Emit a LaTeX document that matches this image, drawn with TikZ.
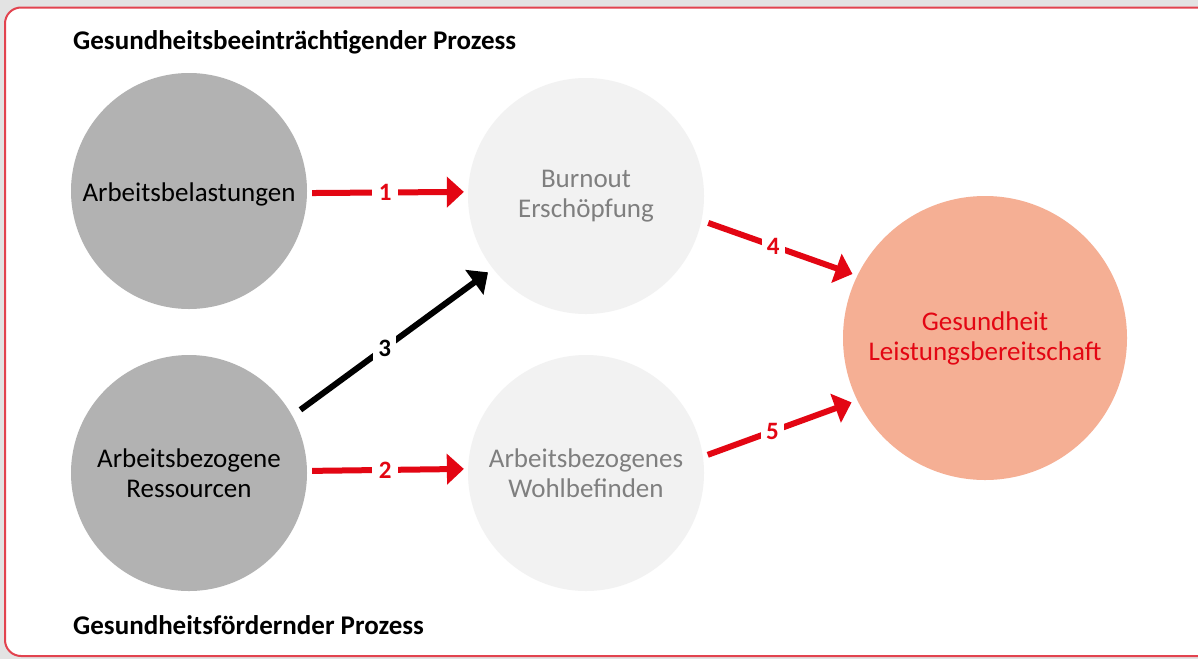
\documentclass[tikz,border=0pt]{standalone}
\usepackage{fontspec}
\setmainfont{Carlito}
\usetikzlibrary{arrows.meta}
\definecolor{pagegrey}{HTML}{E3E3E3}
\definecolor{framered}{HTML}{E2434F}
\definecolor{darkdisc}{HTML}{B2B2B2}
\definecolor{lightdisc}{HTML}{F2F2F2}
\definecolor{salmon}{HTML}{F5AF94}
\definecolor{mutedtext}{HTML}{7F7F7F}
\definecolor{arrowred}{HTML}{E30613}
\tikzset{
  disc/.style={circle, inner sep=0pt, minimum size=236pt, align=center,
    font=\fontsize{27}{30}\selectfont,
    execute at begin node={\rule{0pt}{25pt}}},
  stage/.style={disc, fill=darkdisc, text=black},
  state/.style={disc, fill=lightdisc, text=mutedtext},
  outcome/.style={disc, minimum size=284pt, fill=salmon, text=arrowred},
  heading/.style={anchor=base west, inner sep=0pt,
    font=\fontsize{27}{30}\selectfont\bfseries},
  link/.style={line width=6pt, -{Triangle[length=17pt,width=30pt]}},
  redlink/.style={link, draw=arrowred},
  blacklink/.style={link, draw=black},
  num/.style={fill=white, inner sep=7pt, font=\fontsize{25}{28}\selectfont\bfseries},
}
\begin{document}
\begin{tikzpicture}[x=1pt, y=-1pt]
  % page and frame
  \fill[pagegrey] (0,0) rectangle (1198,659);
  \useasboundingbox (0,0) rectangle (1198,659);
  \draw[framered, line width=2pt, fill=white, rounded corners=16pt]
    (5,7.5) rectangle (1230,656);

  % section headings
  \node[heading] (top) at (73,49) {Gesundheitsbeeinträchtigender Prozess};
  \node[heading] (bottom) at (73,634) {Gesundheitsfördernder Prozess};

  % discs
  \node[stage] (load) at (189,191) {Arbeitsbelastungen};
  \node[stage] (res) at (189,473) {Arbeitsbezogene\\Ressourcen};
  \node[state] (burn) at (586,196) {Burnout\\Erschöpfung};
  \node[state] (well) at (586,473) {Arbeitsbezogenes\\Wohlbefinden};
  \node[outcome] (health) at (985,338) {Gesundheit\\Leistungsbereitschaft};

  % numbered paths
  \draw[redlink, shorten <=5pt, shorten >=4pt]
    (load.-1) -- node[num, text=arrowred, pos=0.485] (n1) {1} (burn.178.6);
  \draw[redlink, shorten <=5pt, shorten >=4pt]
    (res.1.5) -- node[num, text=arrowred, pos=0.485] (n2) {2} (well.178.6);
  \draw[blacklink, shorten <=10pt, shorten >=6pt]
    (res.29.6) -- node[num, text=black, pos=0.46, inner sep=5pt] (n3) {3} (burn.218.2);
  \draw[redlink, shorten <=7pt, shorten >=5pt]
    (burn.-12.5) -- node[num, text=arrowred, pos=0.46, inner sep=5pt] (n4) {4} (health.154.7);
  \draw[redlink, shorten <=5pt, shorten >=6pt]
    (well.8.4) -- node[num, text=arrowred, pos=0.45, inner sep=5pt] (n5) {5} (health.206);
\end{tikzpicture}
\end{document}
